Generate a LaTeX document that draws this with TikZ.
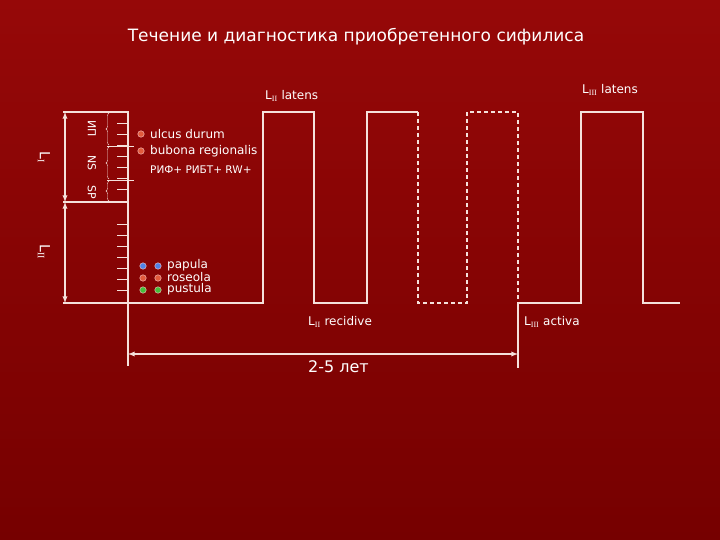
\documentclass[tikz,border=0pt]{standalone}
\usepackage{fontspec}
\setmainfont{DejaVu Sans}
\newfontfamily\romfont{Liberation Serif}
\usetikzlibrary{arrows,decorations.pathreplacing}

\definecolor{bgtop}{RGB}{150,8,8}
\definecolor{bgbot}{RGB}{118,0,0}
\definecolor{wline}{RGB}{245,225,220}
\definecolor{dotred}{RGB}{225,90,60}
\definecolor{dotblue}{RGB}{80,130,230}
\definecolor{dotgreen}{RGB}{70,190,60}

\newcommand{\rn}[1]{\textsubscript{\romfont #1}}

\begin{document}
\begin{tikzpicture}[x=1pt,y=-1pt,auto]
\tikzstyle{wave} = [draw=wline, line width=1.3pt]
\tikzstyle{wavedash} = [wave, dashed, dash pattern=on 4pt off 3pt]
\tikzstyle{tick} = [draw=wline, line width=0.8pt]
\tikzstyle{txt} = [text=white, inner sep=0pt, anchor=west]
\tikzstyle{vtxt} = [text=white, inner sep=0pt, rotate=-90]
\tikzstyle{dot} = [circle, draw=white!80!red, thin, inner sep=0pt, minimum size=6.5pt]
\tikzstyle{brc} = [draw=wline, thin, decorate, decoration={brace, amplitude=3pt}]

% background
\shade[top color=bgtop, bottom color=bgbot] (0,0) rectangle (720,540);
\useasboundingbox (0,0) rectangle (720,540);

\node[text=white, font=\fontsize{17}{17}\selectfont] (title) at (356,37)
  {Течение и диагностика приобретенного сифилиса};

% waveform
\draw[wave] (63,303) -- (263,303) -- (263,112) -- (314,112) -- (314,303)
  -- (367,303) -- (367,112) -- (418,112);
\draw[wavedash] (418,112) -- (418,303) -- (467,303) -- (467,112)
  -- (518,112) -- (518,303);
\draw[wave] (518,303) -- (581,303) -- (581,112) -- (643,112) -- (643,303)
  -- (680,303);

% left scale
\coordinate (atop) at (65,112);
\coordinate (amid) at (65,202);
\coordinate (abot) at (65,303);
\draw[wave] (63,112) -- (128,112) -- (128,366);
\draw[wave] (63,202) -- (128,202);
\foreach \y in {123,134,...,190,224,235,...,292}
  \draw[tick] (117,\y) -- (128,\y);
\draw[tick] (107,146) -- (134,146);
\draw[tick] (107,180) -- (134,180);
\draw[wave, <->, >=latex] (atop) -- (amid);
\draw[wave, <->, >=latex] (amid) -- (abot);

\draw[brc] (109,145) -- (109,113);
\draw[brc] (109,179) -- (109,147);
\draw[brc] (109,201) -- (109,181);

\node[vtxt, font=\fontsize{11}{11}\selectfont] (ip) at (92,129) {ИП};
\node[vtxt, font=\fontsize{11}{11}\selectfont] (ns) at (92,163) {NS};
\node[vtxt, font=\fontsize{11}{11}\selectfont] (sp) at (92,192) {SP};
\node[vtxt, font=\fontsize{14}{14}\selectfont] (lone) at (44,157) {L\rn{I}};
\node[vtxt, font=\fontsize{14}{14}\selectfont] (ltwo) at (44,252) {L\rn{II}};

% primary period
\node[dot, fill=dotred] (d1) at (141,134) {};
\node[dot, fill=dotred] (d2) at (141,151) {};
\node[txt, font=\fontsize{12}{12}\selectfont] (ulcus) at (150,134) {ulcus durum};
\node[txt, font=\fontsize{12}{12}\selectfont] (bubona) at (150,151) {bubona regionalis};
\node[txt, font=\fontsize{10.5}{10.5}\selectfont] (rif) at (150,170) {РИФ+ РИБТ+ RW+};

% secondary period
\foreach \x in {143,158} {
  \node[dot, fill=dotblue] at (\x,266) {};
  \node[dot, fill=dotred] at (\x,278) {};
  \node[dot, fill=dotgreen] at (\x,290) {};
}
\node[txt, font=\fontsize{12}{12}\selectfont] (papula) at (167,265) {papula};
\node[txt, font=\fontsize{12}{12}\selectfont] (roseola) at (167,277) {roseola};
\node[txt, font=\fontsize{12}{12}\selectfont] (pustula) at (167,289) {pustula};

% stage labels
\node[txt, font=\fontsize{12}{12}\selectfont] (lat2) at (265,96) {L\rn{II} latens};
\node[txt, font=\fontsize{12}{12}\selectfont] (lat3) at (582,90) {L\rn{III} latens};
\node[txt, font=\fontsize{12}{12}\selectfont] (rec2) at (308,322) {L\rn{II} recidive};
\node[txt, font=\fontsize{12}{12}\selectfont] (act3) at (524,322) {L\rn{III} activa};

% duration
\coordinate (tstart) at (128,354);
\coordinate (tend) at (518,354);
\draw[wave] (518,303) -- (518,368);
\draw[wave, <->, >=latex] (tstart) -- (tend);
\node[txt, font=\fontsize{16}{16}\selectfont] (years) at (308,367) {2-5 лет};
\end{tikzpicture}
\end{document}
